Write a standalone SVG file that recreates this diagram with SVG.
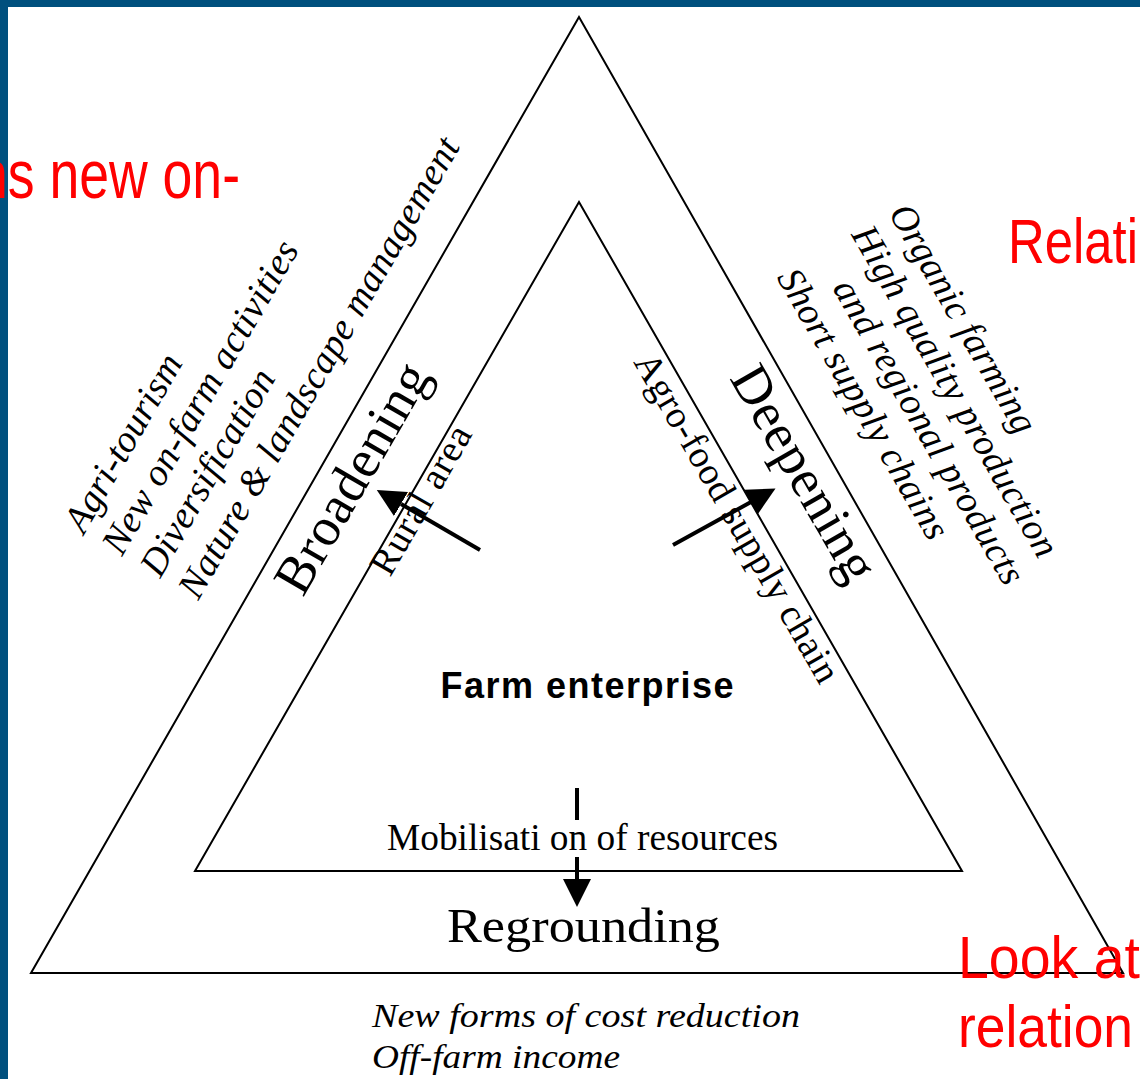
<svg xmlns="http://www.w3.org/2000/svg" width="1140" height="1079" viewBox="0 0 1140 1079">
<style>
.tri{fill:none;stroke:#000;stroke-width:2}
.it{font-family:"Liberation Serif",serif;font-style:italic;font-size:38px;fill:#000}
.rm{font-family:"Liberation Serif",serif;font-size:38px;fill:#000}
.big{font-family:"Liberation Serif",serif;font-size:54px;fill:#000}
.red{font-family:"Liberation Sans",sans-serif;fill:#f00}
.arr{stroke:#000;stroke-width:4;fill:none}
.bar{fill:#00507e}
</style>
<defs>
<marker id="ah" markerWidth="30" markerHeight="30" refX="0" refY="15" orient="auto" markerUnits="userSpaceOnUse"><path d="M0,1 L28,15 L0,29 z" fill="#000"/></marker>
</defs>
<rect x="0" y="0" width="1140" height="1079" fill="#fff"/>
<g id="frame">
<rect class="bar" x="0" y="0" width="1140" height="7"/>
<rect class="bar" x="0" y="0" width="8" height="1079"/>
</g>
<g id="outer-triangle"><polygon class="tri" points="579,17 31,973 1123,973"/></g>
<g id="inner-triangle"><polygon class="tri" points="579,202 195,871 962,871"/></g>
<g id="connectors">
<line class="arr" x1="480" y1="550" x2="401" y2="504" marker-end="url(#ah)"/>
<line class="arr" x1="673" y1="545" x2="751" y2="502" marker-end="url(#ah)"/>
<line class="arr" x1="577" y1="788" x2="577" y2="820"/>
<line class="arr" x1="577" y1="857" x2="577" y2="879" marker-end="url(#ah)"/>
</g>
<g id="broadening-activities" transform="translate(84,535) rotate(-60)">
<text class="it" x="0" y="0" textLength="199">Agri-tourism</text>
<text class="it" x="0" y="44" textLength="355">New on-farm activities</text>
<text class="it" x="0" y="88" textLength="232">Diversification</text>
<text class="it" x="0" y="132" textLength="525">Nature &amp; landscape management</text>
</g>
<g id="broadening">
<text class="big" transform="translate(303,598) rotate(-60)" textLength="257">Broadening</text>
</g>
<g id="rural-area">
<text class="rm" transform="translate(390,578) rotate(-60)" textLength="166">Rural area</text>
</g>
<g id="deepening-activities" transform="translate(888,213) rotate(60)">
<text class="it" x="0" y="0" textLength="258">Organic farming</text>
<text class="it" x="0" y="43" textLength="376">High quality production</text>
<text class="it" x="37" y="86" textLength="346">and regional products</text>
<text class="it" x="0" y="129" textLength="306">Short supply chains</text>
</g>
<g id="deepening">
<text class="big" transform="translate(729,378) rotate(60)" textLength="240">Deepening</text>
</g>
<g id="agro-food">
<text class="rm" transform="translate(633,362) rotate(60)" textLength="374">Agro-food supply chain</text>
</g>
<g id="farm-enterprise">
<text x="587" y="698" text-anchor="middle" font-family="Liberation Sans, Arial, sans-serif" font-weight="bold" font-size="36" textLength="293">Farm enterprise</text>
</g>
<g id="mobilisation">
<text class="rm" x="387" y="850" font-size="36" textLength="391" lengthAdjust="spacingAndGlyphs">Mobilisati on of resources</text>
</g>
<g id="regrounding">
<text class="rm" x="447" y="942" style="font-size:48px" textLength="273" lengthAdjust="spacingAndGlyphs">Regrounding</text>
</g>
<g id="regrounding-activities">
<text class="it" x="372" y="1027" style="font-size:34px" textLength="428" lengthAdjust="spacingAndGlyphs">New forms of cost reduction</text>
<text class="it" x="372" y="1068" style="font-size:34px" textLength="248" lengthAdjust="spacingAndGlyphs">Off-farm income</text>
</g>
<g id="overlay-text">
<text class="red" x="-22" y="198" font-size="68" textLength="262" lengthAdjust="spacingAndGlyphs">ns new on-</text>
<text class="red" x="1008" y="263" font-size="63" textLength="130" lengthAdjust="spacingAndGlyphs">Relati</text>
<text class="red" x="958" y="978" font-size="60" textLength="182" lengthAdjust="spacingAndGlyphs">Look at</text>
<text class="red" x="958" y="1047" font-size="60" textLength="175" lengthAdjust="spacingAndGlyphs">relation</text>
</g>
</svg>
